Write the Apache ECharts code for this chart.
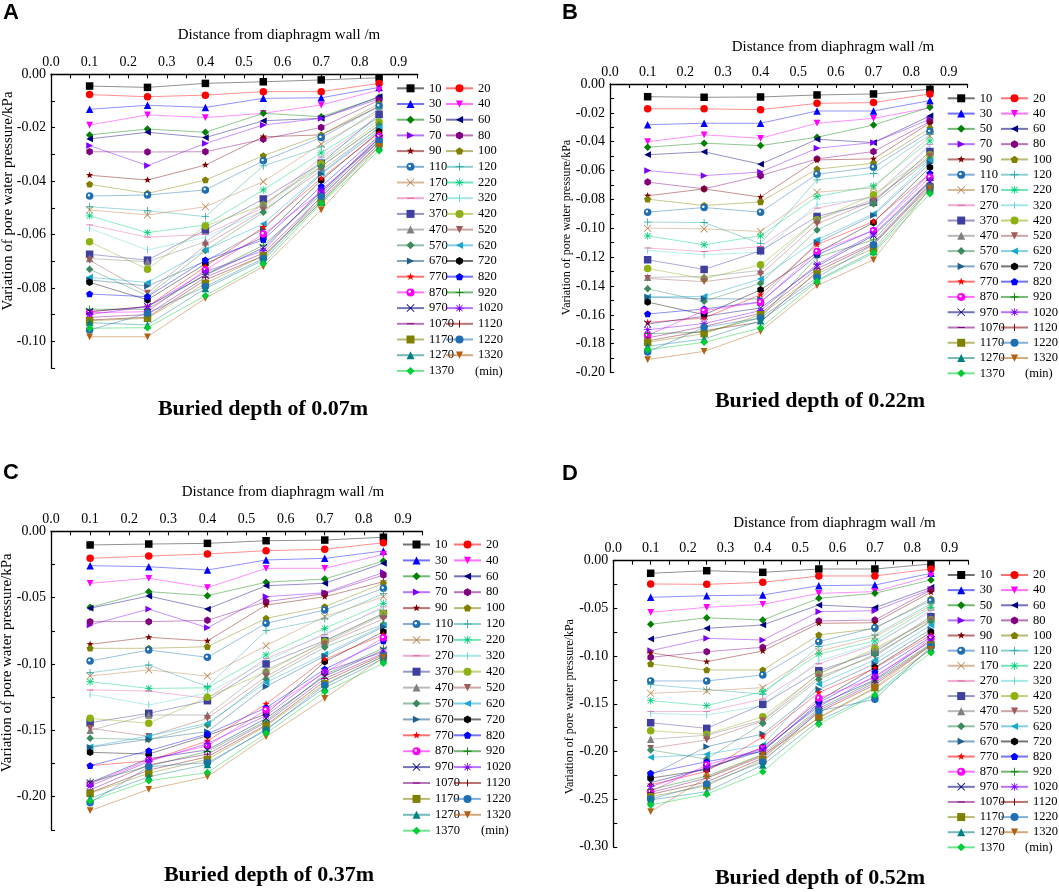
<!DOCTYPE html>
<html>
<head>
<meta charset="utf-8">
<script src="https://cdn.jsdelivr.net/npm/echarts@6/dist/echarts.min.js"></script>
<style>
html,body{margin:0;padding:0;background:#fff;}
#chart{width:1059px;height:892px;}
</style>
</head>
<body>
<div id="chart"></div>
<script>
// ---------------- DATA ----------------
const distances = [0.1, 0.25, 0.4, 0.55, 0.7, 0.85];
const times = ['10','20','30','40','50','60','70','80','90','100','110','120','170','220','270','320','370','420','470','520','570','620','670','720','770','820','870','920','970','1020','1070','1120','1170','1220','1270','1320','1370'];
const panelLetters = ['A','B','C','D'];
const depthTitles = ['Buried depth of 0.07m','Buried depth of 0.22m','Buried depth of 0.37m','Buried depth of 0.52m'];
const xTitle = 'Distance from diaphragm wall /m';
const yTitle = 'Variation of pore water pressure/kPa';

// rows follow "times", columns follow "distances"
const depth007 = [
[-0.0044,-0.0049,-0.0034,-0.0028,-0.0021,-0.0013],
[-0.0076,-0.0084,-0.0078,-0.0065,-0.0065,-0.0034],
[-0.0131,-0.0116,-0.0124,-0.0090,-0.0088,-0.0049],
[-0.0190,-0.0152,-0.0162,-0.0146,-0.0115,-0.0059],
[-0.0227,-0.0205,-0.0217,-0.0146,-0.0159,-0.0086],
[-0.0242,-0.0217,-0.0237,-0.0174,-0.0165,-0.0084],
[-0.0267,-0.0342,-0.0259,-0.0190,-0.0165,-0.0092],
[-0.0290,-0.0291,-0.0290,-0.0243,-0.0199,-0.0097],
[-0.0378,-0.0396,-0.0340,-0.0234,-0.0227,-0.0120],
[-0.0412,-0.0446,-0.0396,-0.0305,-0.0227,-0.0110],
[-0.0456,-0.0452,-0.0433,-0.0324,-0.0237,-0.0119],
[-0.0496,-0.0511,-0.0533,-0.0343,-0.0272,-0.0130],
[-0.0508,-0.0527,-0.0496,-0.0402,-0.0261,-0.0140],
[-0.0530,-0.0593,-0.0564,-0.0433,-0.0294,-0.0160],
[-0.0564,-0.0610,-0.0600,-0.0500,-0.0310,-0.0160],
[-0.0577,-0.0658,-0.0610,-0.0510,-0.0320,-0.0170],
[-0.0674,-0.0696,-0.0583,-0.0467,-0.0333,-0.0150],
[-0.0627,-0.0730,-0.0568,-0.0490,-0.0335,-0.0180],
[-0.0690,-0.0702,-0.0627,-0.0486,-0.0345,-0.0190],
[-0.0696,-0.0820,-0.0640,-0.0510,-0.0360,-0.0200],
[-0.0730,-0.0830,-0.0660,-0.0517,-0.0345,-0.0190],
[-0.0760,-0.0780,-0.0658,-0.0560,-0.0370,-0.0200],
[-0.0770,-0.0793,-0.0700,-0.0580,-0.0373,-0.0210],
[-0.0779,-0.0845,-0.0710,-0.0610,-0.0397,-0.0215],
[-0.0890,-0.0870,-0.0720,-0.0573,-0.0390,-0.0220],
[-0.0823,-0.0833,-0.0696,-0.0620,-0.0420,-0.0230],
[-0.0893,-0.0889,-0.0733,-0.0598,-0.0443,-0.0234],
[-0.0880,-0.0880,-0.0750,-0.0640,-0.0450,-0.0240],
[-0.0888,-0.0870,-0.0752,-0.0650,-0.0440,-0.0240],
[-0.0900,-0.0870,-0.0740,-0.0660,-0.0433,-0.0250],
[-0.0910,-0.0900,-0.0760,-0.0670,-0.0460,-0.0250],
[-0.0920,-0.0910,-0.0770,-0.0680,-0.0470,-0.0260],
[-0.0923,-0.0914,-0.0783,-0.0680,-0.0480,-0.0260],
[-0.0958,-0.0895,-0.0795,-0.0690,-0.0458,-0.0250],
[-0.0930,-0.0939,-0.0802,-0.0696,-0.0477,-0.0270],
[-0.0983,-0.0983,-0.0839,-0.0720,-0.0508,-0.0270],
[-0.0951,-0.0949,-0.0829,-0.0710,-0.0483,-0.0286]
];

const depth022 = [
[-0.0088,-0.0092,-0.0090,-0.0076,-0.0069,-0.0037],
[-0.0172,-0.0172,-0.0178,-0.0134,-0.0129,-0.0069],
[-0.0282,-0.0272,-0.0272,-0.0187,-0.0187,-0.0115],
[-0.0400,-0.0352,-0.0376,-0.0272,-0.0238,-0.0165],
[-0.0438,-0.0410,-0.0427,-0.0369,-0.0284,-0.0161],
[-0.0490,-0.0470,-0.0556,-0.0383,-0.0406,-0.0221],
[-0.0600,-0.0635,-0.0610,-0.0445,-0.0406,-0.0244],
[-0.0680,-0.0727,-0.0635,-0.0519,-0.0468,-0.0260],
[-0.0775,-0.0727,-0.0784,-0.0526,-0.0519,-0.0270],
[-0.0798,-0.0842,-0.0817,-0.0590,-0.0549,-0.0307],
[-0.0888,-0.0856,-0.0888,-0.0625,-0.0577,-0.0330],
[-0.0957,-0.0960,-0.1106,-0.0664,-0.0620,-0.0350],
[-0.0999,-0.1004,-0.1022,-0.0750,-0.0720,-0.0360],
[-0.1052,-0.1114,-0.1052,-0.0780,-0.0706,-0.0394],
[-0.1137,-0.1161,-0.1126,-0.0860,-0.0780,-0.0420],
[-0.1153,-0.1184,-0.1166,-0.0835,-0.0790,-0.0430],
[-0.1218,-0.1285,-0.1156,-0.0918,-0.0820,-0.0468],
[-0.1278,-0.1350,-0.1253,-0.0940,-0.0768,-0.0490],
[-0.1340,-0.1334,-0.1292,-0.0941,-0.0800,-0.0510],
[-0.1347,-0.1370,-0.1320,-0.0970,-0.0810,-0.0500],
[-0.1419,-0.1506,-0.1380,-0.1011,-0.0831,-0.0520],
[-0.1476,-0.1472,-0.1350,-0.1080,-0.0900,-0.0530],
[-0.1476,-0.1488,-0.1490,-0.1100,-0.0910,-0.0550],
[-0.1511,-0.1599,-0.1426,-0.1170,-0.0960,-0.0577],
[-0.1652,-0.1622,-0.1460,-0.1114,-0.0953,-0.0620],
[-0.1594,-0.1559,-0.1510,-0.1185,-0.1012,-0.0620],
[-0.1742,-0.1571,-0.1513,-0.1161,-0.1017,-0.0646],
[-0.1730,-0.1720,-0.1620,-0.1200,-0.1080,-0.0670],
[-0.1663,-0.1610,-0.1552,-0.1264,-0.1050,-0.0680],
[-0.1703,-0.1660,-0.1570,-0.1250,-0.1040,-0.0670],
[-0.1760,-0.1680,-0.1590,-0.1280,-0.1100,-0.0690],
[-0.1780,-0.1710,-0.1650,-0.1300,-0.1110,-0.0700],
[-0.1790,-0.1730,-0.1599,-0.1315,-0.1140,-0.0720],
[-0.1857,-0.1686,-0.1622,-0.1340,-0.1114,-0.0710],
[-0.1818,-0.1767,-0.1640,-0.1360,-0.1160,-0.0730],
[-0.1910,-0.1853,-0.1714,-0.1398,-0.1218,-0.0722],
[-0.1841,-0.1790,-0.1691,-0.1368,-0.1172,-0.0761]
];

const depth037 = [
[-0.0103,-0.0096,-0.0091,-0.0071,-0.0066,-0.0045],
[-0.0204,-0.0186,-0.0171,-0.0146,-0.0136,-0.0086],
[-0.0259,-0.0267,-0.0292,-0.0216,-0.0204,-0.0148],
[-0.0392,-0.0354,-0.0425,-0.0279,-0.0279,-0.0174],
[-0.0573,-0.0455,-0.0485,-0.0384,-0.0360,-0.0224],
[-0.0580,-0.0488,-0.0586,-0.0410,-0.0392,-0.0241],
[-0.0706,-0.0586,-0.0727,-0.0493,-0.0463,-0.0310],
[-0.0681,-0.0681,-0.0671,-0.0531,-0.0470,-0.0330],
[-0.0852,-0.0799,-0.0827,-0.0556,-0.0493,-0.0380],
[-0.0882,-0.0882,-0.0870,-0.0656,-0.0568,-0.0392],
[-0.0978,-0.0895,-0.0950,-0.0694,-0.0593,-0.0430],
[-0.1066,-0.1008,-0.1170,-0.0749,-0.0660,-0.0470],
[-0.1091,-0.1045,-0.1091,-0.0862,-0.0643,-0.0493],
[-0.1134,-0.1184,-0.1180,-0.0932,-0.0731,-0.0543],
[-0.1196,-0.1204,-0.1260,-0.0960,-0.0780,-0.0570],
[-0.1229,-0.1309,-0.1220,-0.0980,-0.0770,-0.0580],
[-0.1443,-0.1372,-0.1277,-0.1000,-0.0824,-0.0620],
[-0.1410,-0.1447,-0.1251,-0.1060,-0.0830,-0.0618],
[-0.1500,-0.1385,-0.1385,-0.1045,-0.0840,-0.0630],
[-0.1485,-0.1545,-0.1410,-0.1095,-0.0850,-0.0660],
[-0.1560,-0.1570,-0.1460,-0.1116,-0.0874,-0.0701],
[-0.1624,-0.1543,-0.1447,-0.1140,-0.0925,-0.0710],
[-0.1628,-0.1568,-0.1510,-0.1170,-0.0940,-0.0720],
[-0.1666,-0.1679,-0.1540,-0.1377,-0.0983,-0.0757],
[-0.1767,-0.1730,-0.1580,-0.1302,-0.0965,-0.0780],
[-0.1767,-0.1654,-0.1528,-0.1330,-0.1040,-0.0827],
[-0.1905,-0.1724,-0.1616,-0.1347,-0.1066,-0.0802],
[-0.1890,-0.1770,-0.1660,-0.1430,-0.1080,-0.0880],
[-0.1895,-0.1713,-0.1648,-0.1410,-0.1092,-0.0895],
[-0.1920,-0.1735,-0.1600,-0.1390,-0.1056,-0.0910],
[-0.1950,-0.1760,-0.1680,-0.1440,-0.1110,-0.0920],
[-0.1970,-0.1800,-0.1700,-0.1460,-0.1130,-0.0930],
[-0.1975,-0.1824,-0.1719,-0.1468,-0.1150,-0.0945],
[-0.2046,-0.1774,-0.1744,-0.1500,-0.1158,-0.0940],
[-0.2013,-0.1850,-0.1757,-0.1490,-0.1180,-0.0960],
[-0.2106,-0.1945,-0.1850,-0.1548,-0.1259,-0.0950],
[-0.2033,-0.1880,-0.1819,-0.1523,-0.1209,-0.0995]
];

const depth052 = [
[-0.0132,-0.0105,-0.0122,-0.0087,-0.0087,-0.0035],
[-0.0244,-0.0248,-0.0227,-0.0160,-0.0160,-0.0087],
[-0.0384,-0.0367,-0.0360,-0.0262,-0.0255,-0.0132],
[-0.0541,-0.0489,-0.0458,-0.0342,-0.0325,-0.0160],
[-0.0667,-0.0598,-0.0622,-0.0394,-0.0342,-0.0202],
[-0.0821,-0.0709,-0.0674,-0.0465,-0.0493,-0.0280],
[-0.0944,-0.0814,-0.0832,-0.0535,-0.0524,-0.0300],
[-0.1013,-0.0954,-0.0908,-0.0632,-0.0622,-0.0305],
[-0.0965,-0.1059,-0.0947,-0.0657,-0.0650,-0.0330],
[-0.1083,-0.1146,-0.1146,-0.0779,-0.0710,-0.0400],
[-0.1261,-0.1261,-0.1198,-0.0849,-0.0702,-0.0419],
[-0.1300,-0.1350,-0.1400,-0.0900,-0.0780,-0.0450],
[-0.1390,-0.1366,-0.1331,-0.0950,-0.0800,-0.0470],
[-0.1468,-0.1520,-0.1373,-0.0978,-0.0842,-0.0489],
[-0.1583,-0.1580,-0.1450,-0.1080,-0.0880,-0.0520],
[-0.1600,-0.1618,-0.1520,-0.1050,-0.0870,-0.0540],
[-0.1699,-0.1758,-0.1506,-0.1153,-0.0960,-0.0587],
[-0.1783,-0.1820,-0.1636,-0.1190,-0.0919,-0.0620],
[-0.1873,-0.1830,-0.1670,-0.1180,-0.0940,-0.0610],
[-0.1967,-0.1880,-0.1680,-0.1220,-0.1000,-0.0630],
[-0.1985,-0.2080,-0.1706,-0.1244,-0.0982,-0.0640],
[-0.2062,-0.2030,-0.1930,-0.1293,-0.1040,-0.0675],
[-0.2250,-0.1950,-0.1817,-0.1350,-0.1080,-0.0719],
[-0.2280,-0.2190,-0.1957,-0.1470,-0.1120,-0.0750],
[-0.2350,-0.2210,-0.1845,-0.1384,-0.1128,-0.0779],
[-0.2229,-0.2108,-0.2000,-0.1490,-0.1170,-0.0800],
[-0.2422,-0.2142,-0.1967,-0.1443,-0.1227,-0.0814],
[-0.2400,-0.2260,-0.2030,-0.1550,-0.1260,-0.0870],
[-0.2328,-0.2175,-0.1990,-0.1510,-0.1250,-0.0830],
[-0.2370,-0.2170,-0.1975,-0.1530,-0.1210,-0.0849],
[-0.2430,-0.2280,-0.2050,-0.1570,-0.1280,-0.0880],
[-0.2450,-0.2320,-0.2070,-0.1590,-0.1300,-0.0890],
[-0.2475,-0.2360,-0.2090,-0.1642,-0.1331,-0.0884],
[-0.2500,-0.2341,-0.2110,-0.1576,-0.1454,-0.0900],
[-0.2509,-0.2422,-0.2142,-0.1680,-0.1400,-0.0920],
[-0.2632,-0.2275,-0.2037,-0.1650,-0.1340,-0.0930],
[-0.2562,-0.2449,-0.2212,-0.1716,-0.1408,-0.0965]
];

// ---------------- STYLE ----------------
const SERIF = '"Liberation Serif","Times New Roman",serif';
const SANS = '"Liberation Sans",Arial,sans-serif';

// tiny corner dots keep every path in a square 10x10 box
const CORNERS = ' M0,0h0.02v0.02h-0.02Z M9.98,9.98h0.02v0.02h-0.02Z';
const SYM = {
  rect: 'rect',
  circle: 'circle',
  tri: 'triangle',
  triDown: 'path://M0.5,0.5L9.5,0.5L5,9.5Z' + CORNERS,
  diamond: 'diamond',
  triLeft: 'path://M9.5,0.5L9.5,9.5L0.5,5Z' + CORNERS,
  triRight: 'path://M0.5,0.5L0.5,9.5L9.5,5Z' + CORNERS,
  hex: 'path://M5,0L9.33,2.5L9.33,7.5L5,10L0.67,7.5L0.67,2.5Z' + CORNERS,
  star: 'path://M5,0L6.18,3.38L9.76,3.46L6.9,5.62L7.94,9.05L5,7L2.06,9.05L3.1,5.62L0.24,3.46L3.82,3.38Z' + CORNERS,
  pent: 'path://M5,0.3L9.76,3.76L7.94,9.35L2.06,9.35L0.24,3.76Z' + CORNERS,
  sphere: 'circle',
  plus: 'path://M4.45,0H5.55V4.45H10V5.55H5.55V10H4.45V5.55H0V4.45H4.45Z',
  cross: 'path://M0,0.7L0.7,0L5,4.3L9.3,0L10,0.7L5.7,5L10,9.3L9.3,10L5,5.7L0.7,10L0,9.3L4.3,5Z',
  aster: 'path://M4.5,0H5.5V4.5H10V5.5H5.5V10H4.5V5.5H0V4.5H4.5Z M0.8,1.5L1.5,0.8L5,4.3L8.5,0.8L9.2,1.5L5.7,5L9.2,8.5L8.5,9.2L5,5.7L1.5,9.2L0.8,8.5L4.3,5Z',
  hbar: 'path://M0.5,4.4H9.5V5.6H0.5Z' + CORNERS,
  vbar: 'path://M4.4,0.5H5.6V9.5H4.4Z' + CORNERS
};
const symbolCycle = ['rect','circle','tri','triDown','diamond','triLeft','triRight','hex','star','pent','sphere','plus','cross','aster','hbar','vbar'];
const colorList = ['#000000','#FF0000','#0000FF','#FF00FF','#008000','#000080','#8000FF','#800080','#800000','#808000',
  '#1F6EB4','#2EA8A8','#B8804A','#00D27A','#E860A8','#5CD6D6','#3F3FA0','#8DB110','#808080','#A05A5A',
  '#3B8A5E','#18A8D0','#1E5F8C','#000000','#FF0000','#0000FF','#FF00FF','#008000','#000080','#8000FF',
  '#800080','#800000','#808000','#1F6EB4','#008080','#B06010','#00CC33'];

const panels = [
  {data: depth007, grid:{left:51, top:74.3, width:366.7, height:293.7}, yMin:-0.11, yStep:0.01,
   letter:[3,13], xt:[279,35], yt:[8,201,15], bt:[263,409], lg:{l:396, r:445, top:81.8, gap:2.7, minX:475, minY:371.7}},
  {data: depth022, grid:{left:610, top:84, width:357.6, height:288.6}, yMin:-0.20, yStep:0.01,
   letter:[562,13], xt:[833,46.7], yt:[567,227.5,12], bt:[820,401.7], lg:{l:946.7, r:1000, top:91.8, gap:2.28, minX:1025, minY:373.3}},
  {data: depth037, grid:{left:51, top:531.3, width:371.5, height:298.5}, yMin:-0.225, yStep:0.025,
   letter:[3,473], xt:[283,491.7], yt:[7,662.8,15], bt:[269,875], lg:{l:402, r:453, top:538, gap:2.9, minX:481, minY:830.7}},
  {data: depth052, grid:{left:613.3, top:560.7, width:355, height:286.1}, yMin:-0.30, yStep:0.025,
   letter:[562,474], xt:[834.5,523.3], yt:[570,706.7,12], bt:[820,878.3], lg:{l:946.7, r:1000, top:568.5, gap:2.13, minX:1025, minY:847.3}}
];

function itemColor(i) {
  const c = colorList[i];
  if (symbolCycle[i % 16] === 'sphere') {
    return {type:'radial', x:0.4, y:0.4, r:0.6, colorStops:[
      {offset:0, color:'#ffffff'}, {offset:0.18, color:'#ffffff'}, {offset:0.35, color:c}, {offset:1, color:c}]};
  }
  return c;
}

const grids = [], xAxes = [], yAxes = [], series = [], legends = [], graphics = [];

panels.forEach((p, pi) => {
  grids.push(Object.assign({containLabel:false}, p.grid));
  xAxes.push({
    type:'value', gridIndex:pi, position:'top', min:0, max:0.95, interval:0.05,
    axisLine:{show:true, onZero:false, lineStyle:{color:'#000', width:1.3}},
    axisTick:{show:true, inside:true, length:4, lineStyle:{color:'#000', width:1.1}},
    axisLabel:{interval:0, margin:5, color:'#000', fontFamily:SERIF, fontSize:14,
      formatter:(v)=>{ const k = Math.round(v/0.05); return (k % 2 === 0) ? v.toFixed(1) : ''; }},
    splitLine:{show:false}
  });
  const step = p.yStep;
  yAxes.push({
    type:'value', gridIndex:pi, position:'left', min:p.yMin, max:0, interval:step,
    axisLine:{show:true, onZero:false, lineStyle:{color:'#000', width:1.3}},
    axisTick:{show:true, inside:true, length:4, lineStyle:{color:'#000', width:1.1}},
    axisLabel:{interval:0, margin:5, color:'#000', fontFamily:SERIF, fontSize:14,
      formatter:(v)=>{ const k = Math.round(v/step); if (Math.abs(k) % 2 !== 0) return ''; if (Math.abs(v) < 1e-9) return '0.00'; return v.toFixed(2); }},
    splitLine:{show:false}
  });
  times.forEach((t, i) => {
    series.push({
      type:'line', name:t, xAxisIndex:pi, yAxisIndex:pi,
      data: distances.map((x, j) => [x, p.data[i][j]]),
      symbol: SYM[symbolCycle[i % 16]], symbolSize:7.5,
      showAllSymbol:true,
      itemStyle:{color:itemColor(i)},
      lineStyle:{color:colorList[i], width:0.8, opacity:0.55},
      emphasis:{disabled:true},
      silent:true, animation:false
    });
  });
  const leftNames = times.filter((t, i) => i % 2 === 0);
  const rightNames = times.filter((t, i) => i % 2 === 1);
  const lgBase = {orient:'vertical', top:p.lg.top, itemWidth:27, itemHeight:10, itemGap:p.lg.gap, padding:0,
    selectedMode:false, textStyle:{fontFamily:SERIF, fontSize:12.5, color:'#000', lineHeight:13}};
  legends.push(Object.assign({}, lgBase, {left:p.lg.l, data:leftNames}));
  legends.push(Object.assign({}, lgBase, {left:p.lg.r, data:rightNames}));

  graphics.push({type:'text', left:p.letter[0], top:p.letter[1]-11, style:{text:panelLetters[pi], font:'bold 22px ' + SANS, fill:'#000'}});
  graphics.push({type:'text', x:p.xt[0], y:p.xt[1], style:{text:xTitle, font:'15px ' + SERIF, fill:'#000', textAlign:'center', textVerticalAlign:'middle'}});
  graphics.push({type:'text', x:p.yt[0], y:p.yt[1], rotation:Math.PI/2, style:{text:yTitle, font:p.yt[2] + 'px ' + SERIF, fill:'#000', textAlign:'center', textVerticalAlign:'middle'}});
  graphics.push({type:'text', x:p.bt[0], y:p.bt[1], style:{text:depthTitles[pi], font:'bold 22px ' + SERIF, fill:'#000', textAlign:'center', textVerticalAlign:'middle'}});
  graphics.push({type:'text', x:p.lg.minX, y:p.lg.minY, style:{text:'(min)', font:'12.5px ' + SERIF, fill:'#000', textAlign:'left', textVerticalAlign:'middle'}});
});

const chart = echarts.init(document.getElementById('chart'), null, {renderer:'canvas'});
chart.setOption({
  backgroundColor:'#ffffff',
  animation:false,
  grid:grids, xAxis:xAxes, yAxis:yAxes, series:series, legend:legends,
  graphic:graphics
});
</script>
</body>
</html>
